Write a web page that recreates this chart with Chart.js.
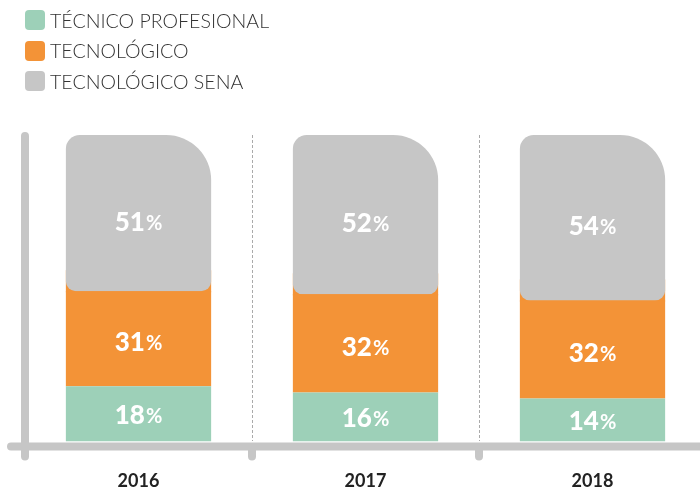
<!DOCTYPE html>
<html>
<head>
<meta charset="utf-8">
<script src="https://cdn.jsdelivr.net/npm/chart.js@4.4.1/dist/chart.umd.min.js"></script>
<style>
  html, body { margin: 0; padding: 0; background: #fff; overflow: hidden; }
  #wrap { position: relative; width: 700px; height: 488px; overflow: hidden; }
  #box { position: absolute; left: 0; top: 0; width: 706px; height: 521px; }
  #legend { position: absolute; left: 25px; top: 5px; font-family: Lato, sans-serif; font-weight: 300; font-size: 19.6px; color: #333; }
  .item { display: flex; align-items: center; height: 30.5px; white-space: nowrap; }
  .sw { width: 20px; height: 20px; border-radius: 4px; margin-right: 5px; }
</style>
</head>
<body>
<div id="wrap">
  <div id="box"><canvas id="chart"></canvas></div>
  <div id="legend"></div>
</div>
<script>
const years = ["2016", "2017", "2018"];
const seriesNames = ["TÉCNICO PROFESIONAL", "TECNOLÓGICO", "TECNOLÓGICO SENA"];
const tecnicoProfesional = [18, 16, 14];
const tecnologico = [31, 32, 32];
const tecnologicoSena = [51, 52, 54];
const colors = ["#9dd0b8", "#f39337", "#c6c6c6"];

// legend
const legendEl = document.getElementById("legend");
seriesNames.forEach((name, i) => {
  const row = document.createElement("div");
  row.className = "item";
  row.innerHTML = '<span class="sw" style="background:' + colors[i] + '"></span>' + name;
  legendEl.appendChild(row);
});

const axisColor = "#c6c6c6";

// orange showing behind the rounded bottom of the grey block
const underlap = {
  id: "underlap",
  beforeDatasetsDraw(chart) {
    const ctx = chart.ctx;
    const meta = chart.getDatasetMeta(1);
    ctx.save();
    ctx.fillStyle = colors[1];
    meta.data.forEach(el => {
      ctx.fillRect(el.x - el.width / 2, el.y - 21, el.width, 22);
    });
    ctx.restore();
  }
};

const valueLabels = {
  id: "valueLabels",
  afterDatasetsDraw(chart) {
    const ctx = chart.ctx;
    const offsets = [2, 4, 9];
    const numFont = "900 26px Lato";
    const pctFont = "bold 20px Lato";
    ctx.save();
    ctx.fillStyle = "#fff";
    ctx.textBaseline = "middle";
    ctx.textAlign = "left";
    chart.data.datasets.forEach((ds, di) => {
      chart.getDatasetMeta(di).data.forEach((el, i) => {
        const num = String(ds.data[i]);
        const y = (el.y + el.base) / 2 + offsets[di];
        ctx.font = numFont;
        const w1 = ctx.measureText(num).width;
        ctx.font = pctFont;
        const w2 = ctx.measureText("%").width;
        const x0 = el.x - (w1 + w2 + 1) / 2;
        ctx.font = numFont;
        ctx.fillText(num, x0, y);
        ctx.font = pctFont;
        ctx.fillText("%", x0 + w1 + 1, y + 1);
      });
    });
    ctx.restore();
  }
};

const axes = {
  id: "axes",
  afterDatasetsDraw(chart) {
    const ctx = chart.ctx;
    const area = chart.chartArea;
    const xs = chart.scales.x;
    const yLine = area.bottom + 5;
    ctx.save();
    ctx.strokeStyle = axisColor;
    ctx.lineWidth = 8;
    ctx.lineCap = "round";
    ctx.beginPath();
    ctx.moveTo(11, yLine);
    ctx.lineTo(chart.width + 10, yLine);
    ctx.moveTo(area.left, area.top + 1);
    ctx.lineTo(area.left, yLine + 10);
    for (let i = 1; i < years.length; i++) {
      const gx = (xs.getPixelForTick(i - 1) + xs.getPixelForTick(i)) / 2;
      ctx.moveTo(gx, yLine);
      ctx.lineTo(gx, yLine + 10);
    }
    ctx.stroke();
    ctx.restore();
  }
};

new Chart(document.getElementById("chart"), {
  type: "bar",
  data: {
    labels: years,
    datasets: [
      { label: seriesNames[0], data: tecnicoProfesional, backgroundColor: colors[0], borderWidth: 0 },
      { label: seriesNames[1], data: tecnologico, backgroundColor: colors[1], borderWidth: 0 },
      {
        label: seriesNames[2], data: tecnologicoSena, backgroundColor: colors[2], borderWidth: 0,
        borderSkipped: false,
        borderRadius: { topLeft: 14, topRight: 45, bottomLeft: 10, bottomRight: 10 }
      }
    ]
  },
  options: {
    responsive: true,
    maintainAspectRatio: false,
    animation: false,
    layout: { padding: { top: 135, left: 25, right: 0, bottom: 0 } },
    datasets: { bar: { categoryPercentage: 1, barPercentage: 0.64 } },
    plugins: { legend: { display: false }, tooltip: { enabled: false } },
    scales: {
      x: {
        stacked: true,
        offset: true,
        grid: { offset: true, color: "#aaaaaa", lineWidth: 1, drawTicks: false },
        border: { display: false, dash: [3, 2] },
        ticks: { padding: 29, color: "#222", font: { family: "Lato", size: 18, weight: "bold" } }
      },
      y: { stacked: true, min: 0, max: 100, display: false }
    }
  },
  plugins: [underlap, valueLabels, axes]
});
</script>
</body>
</html>
